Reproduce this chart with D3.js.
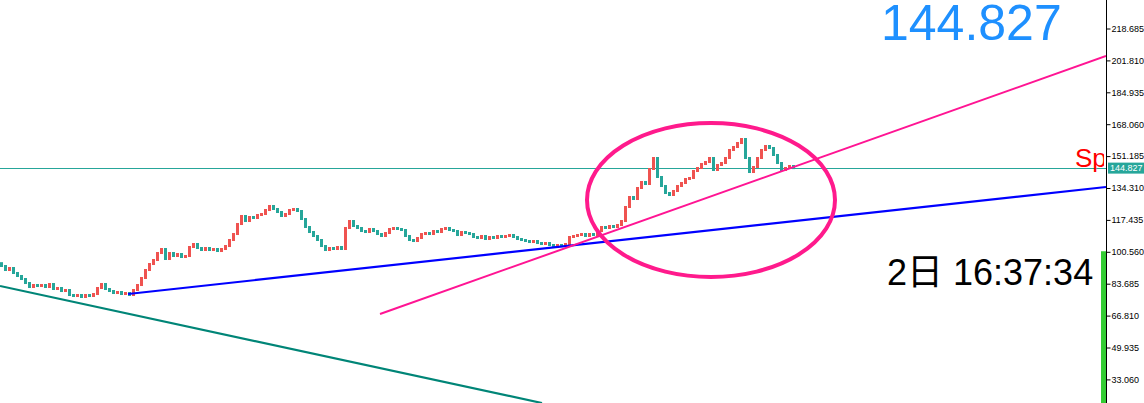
<!DOCTYPE html>
<html>
<head>
<meta charset="utf-8">
<script src="https://cdn.jsdelivr.net/npm/d3@7"></script>
<style>
  html, body { margin: 0; padding: 0; background: #fff; }
  svg { display: block; }
</style>
</head>
<body>
<svg id="chart" width="1144" height="403"></svg>
<script>
// ---------------- data ----------------
const closes = [
  93.05, 90.93, 91.99, 89.35, 87.76, 86.17, 84.05, 81.94, 82.99, 82.47,
  82.99, 81.94, 83.52, 80.88, 81.41, 79.82, 80.35, 77.70, 77.18, 77.70,
  76.65, 77.70, 77.18, 78.23, 81.41, 83.52, 80.88, 79.82, 78.76, 79.29,
  78.23, 78.76, 77.70, 80.35, 82.99, 86.70, 90.93, 94.10, 96.22, 99.92,
  102.04, 96.75, 99.92, 98.34, 99.39, 97.81, 98.34, 103.10, 104.68, 102.57,
  101.51, 102.57, 101.51, 102.04, 100.98, 102.04, 103.62, 106.80, 109.97, 115.26,
  119.50, 116.85, 118.97, 118.44, 120.03, 120.55, 122.67, 124.79, 123.20, 121.61,
  119.50, 120.55, 122.67, 123.20, 122.14, 117.91, 113.68, 111.03, 108.92, 106.80,
  103.62, 101.51, 102.57, 102.04, 103.10, 102.04, 113.15, 116.85, 114.21, 113.15,
  111.56, 111.03, 112.62, 111.56, 109.97, 108.92, 110.50, 112.62, 113.15, 112.62,
  112.09, 108.92, 106.80, 106.27, 107.86, 109.97, 110.50, 109.97, 111.56, 111.03,
  112.62, 113.15, 112.09, 111.56, 109.44, 111.03, 110.50, 109.97, 108.39, 107.86,
  108.92, 107.33, 108.39, 107.86, 108.92, 108.39, 108.92, 109.44, 108.39, 107.33,
  106.80, 106.27, 105.74, 106.27, 105.21, 104.68, 105.21, 104.15, 103.62, 104.15,
  103.62, 104.68, 108.39, 108.92, 109.44, 109.97, 108.92, 109.97, 109.44, 111.56,
  113.68, 113.15, 114.21, 113.68, 114.74, 116.85, 124.26, 129.55, 128.49, 134.31,
  137.49, 136.43, 144.36, 150.18, 140.13, 135.37, 131.67, 130.61, 132.73, 135.37,
  136.96, 139.07, 139.60, 143.30, 144.89, 147.00, 148.06, 150.18, 143.83, 146.47,
  147.53, 150.18, 154.41, 156.00, 158.11, 160.23, 150.18, 142.77, 145.42, 150.18,
  154.41, 156.53, 155.47, 151.77, 147.53, 143.83, 144.89, 145.95, 144.827
];
const yTicks = [218.685, 201.810, 184.935, 168.060, 151.185, 134.310, 117.435, 100.560, 83.685, 66.810, 49.935, 33.060];
const lastPrice = 144.827;
// trend lines: [bar index, price]
const trendTeal = [[-0.25, 82.47], [135.25, 20.57]];
const trendBlue = [[31.75, 78.23], [276.25, 134.84]];
const trendPink = [[94.75, 67.65], [276.25, 204.14]];
// ellipse bounding box
const ellipseIdx = [146.5, 208.5];
const ellipsePrice = [87.23, 168.69];
// indicator bar top value
const indicatorTop = 100.85;
const countdownText = "2日 16:37:34";
const spreadText = "Sp";

// ---------------- layout ----------------
const W = 1144, H = 403, axisX = 1106;
const svg = d3.select("#chart");

const x = d3.scaleLinear().domain([0, closes.length - 1]).range([1, 793]);
const y = d3.scaleLinear().domain([33.060, 218.685]).range([379.4, 28.5]);

svg.append("rect").attr("width", W).attr("height", H).attr("fill", "#fff");

const defs = svg.append("defs");
defs.append("clipPath").attr("id", "plot")
  .append("rect").attr("x", 0).attr("y", 0).attr("width", axisX).attr("height", H);
defs.append("clipPath").attr("id", "spclip")
  .append("rect").attr("x", 0).attr("y", 0).attr("width", axisX - 2).attr("height", H);

const plot = svg.append("g").attr("clip-path", "url(#plot)");

// current price horizontal line
plot.append("line")
  .attr("x1", 0).attr("x2", axisX)
  .attr("y1", Math.round(y(lastPrice)) + 0.5).attr("y2", Math.round(y(lastPrice)) + 0.5)
  .attr("stroke", "#26a69a").attr("stroke-width", 1);

// candles (open = previous close)
const candles = closes.map((c, i) => ({ i, o: i === 0 ? c + 1.5 : closes[i - 1], c }));
plot.append("g").selectAll("rect").data(candles).join("rect")
  .attr("x", d => Math.round(x(d.i)) - 1)
  .attr("width", 3)
  .attr("y", d => Math.min(y(d.o), y(d.c)) - 1)
  .attr("height", d => Math.max(3, Math.abs(y(d.o) - y(d.c)) + 2))
  .attr("fill", d => d.c >= d.o ? "#ef5350" : "#26a69a");

// trend lines
const line = d3.line().x(d => x(d[0])).y(d => y(d[1]));
plot.append("path").attr("d", line(trendTeal)).attr("stroke", "#008577").attr("stroke-width", 2.2).attr("fill", "none");
plot.append("path").attr("d", line(trendBlue)).attr("stroke", "#0000ff").attr("stroke-width", 2.2).attr("fill", "none");
plot.append("path").attr("d", line(trendPink)).attr("stroke", "#ff1493").attr("stroke-width", 2).attr("fill", "none");

// ellipse
plot.append("ellipse")
  .attr("cx", (x(ellipseIdx[0]) + x(ellipseIdx[1])) / 2)
  .attr("cy", (y(ellipsePrice[0]) + y(ellipsePrice[1])) / 2)
  .attr("rx", (x(ellipseIdx[1]) - x(ellipseIdx[0])) / 2)
  .attr("ry", (y(ellipsePrice[0]) - y(ellipsePrice[1])) / 2)
  .attr("fill", "none").attr("stroke", "#ff1a8c").attr("stroke-width", 4);

// indicator bar (green)
svg.append("rect")
  .attr("x", axisX - 5).attr("width", 5)
  .attr("y", y(indicatorTop)).attr("height", H - y(indicatorTop))
  .attr("fill", "#33cc33");

// texts
svg.append("text")
  .attr("x", 881).attr("y", 40)
  .attr("font-family", "'Liberation Sans', Arial, sans-serif")
  .attr("font-size", 50).attr("fill", "#1e90ff")
  .text(d3.format(".3f")(lastPrice));

svg.append("text")
  .attr("x", 887).attr("y", 285)
  .attr("font-family", "'Liberation Sans', 'Noto Sans CJK JP', sans-serif")
  .attr("font-size", 36).attr("fill", "#000")
  .text(countdownText);

svg.append("g").attr("clip-path", "url(#spclip)")
  .append("text")
  .attr("x", 1075).attr("y", 167)
  .attr("font-family", "'Liberation Sans', Arial, sans-serif")
  .attr("font-size", 26).attr("fill", "#ff0000")
  .text(spreadText);

// right axis
const axis = d3.axisRight(y).tickValues(yTicks).tickFormat(d3.format(".3f")).tickSize(4).tickPadding(1);
const gAxis = svg.append("g").attr("transform", `translate(${axisX + 0.5},0)`).call(axis);
gAxis.select(".domain").attr("d", `M0,0V${H}`).attr("stroke", "#000");
gAxis.selectAll(".tick line").attr("stroke", "#000");
gAxis.selectAll(".tick text")
  .attr("font-family", "'Liberation Sans', Arial, sans-serif")
  .attr("font-size", 9).attr("fill", "#000");

// price label
const ly = y(lastPrice);
svg.append("rect").attr("x", axisX + 2).attr("y", ly - 5.5).attr("width", W - axisX - 2).attr("height", 11).attr("fill", "#26a69a");
svg.append("text").attr("x", axisX + 4).attr("y", ly).attr("dy", "0.35em")
  .attr("font-family", "'Liberation Sans', Arial, sans-serif")
  .attr("font-size", 9).attr("fill", "#fff")
  .text(d3.format(".3f")(lastPrice));
</script>
</body>
</html>
